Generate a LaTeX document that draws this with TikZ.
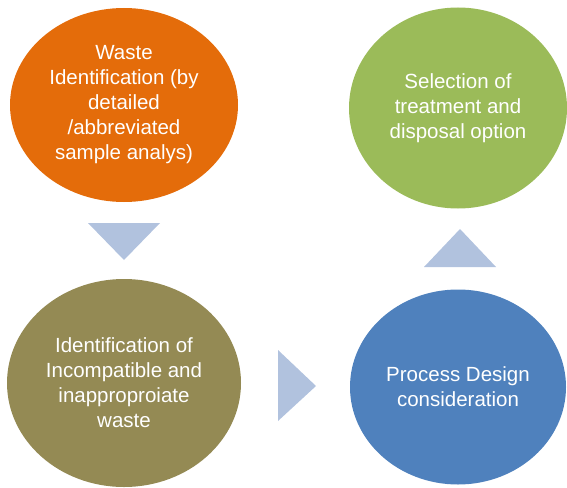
\documentclass[tikz,border=0pt]{standalone}
\usepackage{fontspec}
\setmainfont{Liberation Sans}
\usetikzlibrary{shapes.geometric}
\definecolor{corange}{HTML}{E46C0A}
\definecolor{cgreen}{HTML}{9BBB59}
\definecolor{colive}{HTML}{948A54}
\definecolor{cblue}{HTML}{4F81BD}
\definecolor{carrow}{HTML}{B1C2DE}
\tikzset{
  bubble/.style={ellipse, inner sep=0pt, align=center, text=white,
    font=\fontsize{20.5}{25}\selectfont},
  chevron/.style={fill=carrow, draw=none}
}
\begin{document}
\begin{tikzpicture}[x=1pt,y=-1pt]
\useasboundingbox (0,0) rectangle (567,487);
\node[bubble, fill=corange, minimum width=228pt, minimum height=194pt] (waste) at (124,105)
  {Waste\\Identification (by\\detailed\\/abbreviated\\sample analys)};
\node[bubble, fill=cgreen, minimum width=218pt, minimum height=201pt] (select) at (458,108)
  {Selection of\\treatment and\\disposal option};
\node[bubble, fill=colive, minimum width=234pt, minimum height=208pt] (incomp) at (124,383)
  {Identification of\\Incompatible and\\inapproproiate\\waste};
\node[bubble, fill=cblue, minimum width=216pt, minimum height=195pt] (design) at (458,387)
  {Process Design\\consideration};
% triangles
\coordinate (d1) at (88,223); \coordinate (d2) at (160,223); \coordinate (d3) at (124,260);
\fill[chevron] (d1) -- (d2) -- (d3) -- cycle;
\coordinate (r1) at (278,350); \coordinate (r2) at (278,421); \coordinate (r3) at (316,386);
\fill[chevron] (r1) -- (r2) -- (r3) -- cycle;
\coordinate (u1) at (424,267); \coordinate (u2) at (496,267); \coordinate (u3) at (460,229);
\fill[chevron] (u1) -- (u2) -- (u3) -- cycle;
\end{tikzpicture}
\end{document}
